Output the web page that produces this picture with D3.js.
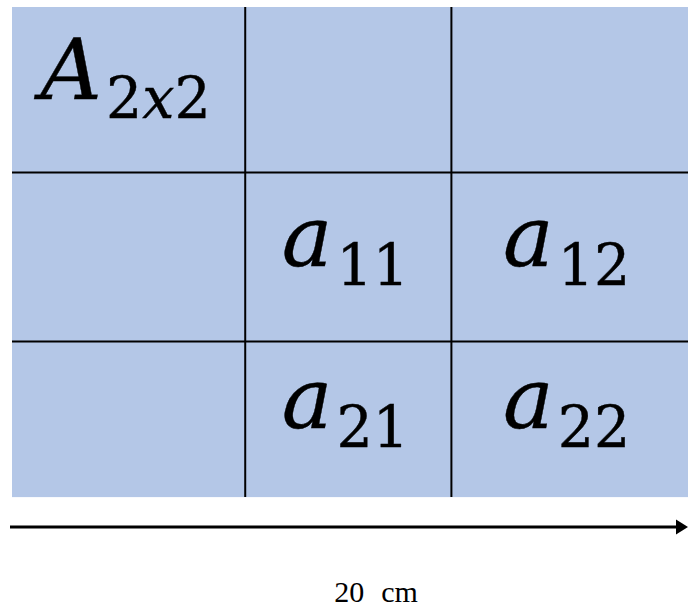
<!DOCTYPE html>
<html>
<head>
<meta charset="utf-8">
<script src="https://cdn.jsdelivr.net/npm/d3@7"></script>
<style>
  html, body { margin: 0; padding: 0; background: #fff; }
  svg { display: block; }
</style>
</head>
<body>
<div id="chart"></div>
<script>
// cell sizes, in cm (total width = 20 cm)
var colWidths = [6.9, 6.1, 7];
var rowHeights = [4.9, 5, 4.6];

// cell contents: [main symbol, subscript]
var cellLabels = [
  [["A", "2x2"], null, null],
  [null, ["a", "11"], ["a", "12"]],
  [null, ["a", "21"], ["a", "22"]]
];

var totalLabel = "20";
var unitLabel = "cm";

var width = 688, height = 607;
var margin = {top: 7, left: 12};

var svg = d3.select("#chart").append("svg")
    .attr("width", width)
    .attr("height", height);

var totalW = d3.sum(colWidths), totalH = d3.sum(rowHeights);

// one cm scale for both directions
var cm = d3.scaleLinear().domain([0, totalW]).range([0, width - margin.left]);

var colEdges = [0].concat(Array.from(d3.cumsum(colWidths)));
var rowEdges = [0].concat(Array.from(d3.cumsum(rowHeights)));

var g = svg.append("g").attr("transform", "translate(" + margin.left + "," + margin.top + ")");

// background fill
g.append("rect")
    .attr("x", 0).attr("y", 0)
    .attr("width", cm(totalW))
    .attr("height", cm(totalH))
    .attr("fill", "#b4c7e7");

// inner grid lines
g.selectAll("line.v")
    .data(colEdges.slice(1, -1))
    .enter().append("line")
    .attr("class", "v")
    .attr("x1", function(d){ return cm(d); })
    .attr("x2", function(d){ return cm(d); })
    .attr("y1", 0)
    .attr("y2", cm(totalH))
    .attr("stroke", "#000")
    .attr("stroke-width", 2);

g.selectAll("line.h")
    .data(rowEdges.slice(1, -1))
    .enter().append("line")
    .attr("class", "h")
    .attr("x1", 0)
    .attr("x2", cm(totalW))
    .attr("y1", function(d){ return cm(d); })
    .attr("y2", function(d){ return cm(d); })
    .attr("stroke", "#000")
    .attr("stroke-width", 2);

// labels
var cells = [];
cellLabels.forEach(function(row, r){
  row.forEach(function(lab, c){
    if (lab) cells.push({r: r, c: c, main: lab[0], sub: lab[1]});
  });
});

var mathFont = "'DejaVu Serif', serif";

var txt = g.selectAll("text.cell")
    .data(cells)
    .enter().append("text")
    .attr("class", "cell")
    .attr("x", function(d){ return (cm(colEdges[d.c]) + cm(colEdges[d.c + 1])) / 2 - 3; })
    .attr("y", function(d){ return (cm(rowEdges[d.r]) + cm(rowEdges[d.r + 1])) / 2 + 9; })
    .attr("text-anchor", "middle")
    .style("font-family", mathFont)
    .style("fill", "#000")
    .style("stroke", "#000")
    .style("stroke-width", 0.4);

txt.append("tspan")
    .style("font-style", "italic")
    .style("font-size", "85px")
    .text(function(d){ return d.main; });

txt.each(function(d){
  var t = d3.select(this);
  var parts = d.sub.split(/([a-z])/).filter(function(s){ return s.length; });
  parts.forEach(function(p, i){
    var ts = t.append("tspan")
        .style("font-size", "57px")
        .style("font-style", /[a-z]/.test(p) ? "italic" : "normal")
        .text(p);
    if (i === 0) ts.attr("dx", 4).attr("dy", 19);
  });
});

// arrow
var arrowY = 527;
svg.append("line")
    .attr("x1", 10).attr("x2", width - 10)
    .attr("y1", arrowY).attr("y2", arrowY)
    .attr("stroke", "#000")
    .attr("stroke-width", 3);

svg.append("path")
    .attr("d", d3.line()([[width - 12, arrowY - 7.5], [width, arrowY], [width - 12, arrowY + 7.5]]) + "Z")
    .attr("fill", "#000");

var lbl = svg.append("text")
    .attr("x", 376)
    .attr("y", 602)
    .attr("text-anchor", "middle")
    .style("font-family", "'Liberation Serif', 'Times New Roman', serif")
    .style("font-size", "30px")
    .style("fill", "#000");
lbl.append("tspan").text(totalLabel);
lbl.append("tspan").attr("dx", 17).text(unitLabel);
</script>
</body>
</html>
